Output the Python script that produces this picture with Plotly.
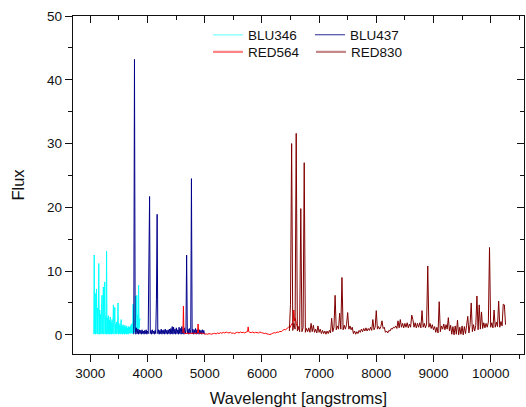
import plotly.graph_objects as go

# ---------------- data ----------------
blu346_wl = [3060, 3068, 3076, 3084, 3092, 3100, 3108, 3116, 3124, 3132,
             3140, 3148, 3156, 3164, 3172, 3180, 3188, 3196, 3204, 3212,
             3220, 3228, 3236, 3244, 3252, 3260, 3268, 3276, 3284, 3292,
             3300, 3308, 3316, 3324, 3332, 3340, 3348, 3356, 3364, 3372,
             3380, 3388, 3396, 3404, 3412, 3420, 3428, 3436, 3444, 3452,
             3460, 3468, 3476, 3484, 3492, 3500, 3508, 3516, 3524, 3532,
             3540, 3548, 3556, 3564, 3572, 3580, 3588, 3596, 3604, 3612,
             3620, 3628, 3636, 3644, 3652, 3660, 3668, 3676, 3684, 3692,
             3700, 3708, 3716, 3724, 3732, 3740, 3748, 3756, 3764, 3772,
             3780, 3788, 3796, 3804, 3812, 3820, 3828, 3836, 3844, 3852,
             3860, 3868]
blu346_flux = [0.1, 12.5, 0.2, 6.5, 0.1, 4.8, 7.2, 0.2, 4.2, 0.1,
               3.6, 11.2, 0.1, 3.9, 0.2, 3.2, 0.1, 4.0, 6.2, 0.2,
               2.8, 7.5, 0.1, 3.1, 8.3, 0.2, 2.9, 0.1, 13.1, 0.2,
               2.6, 0.1, 3.0, 0.2, 2.3, 0.1, 2.8, 0.2, 2.0, 0.1,
               2.4, 0.2, 1.9, 4.7, 0.1, 2.1, 4.3, 0.2, 1.7, 0.1,
               2.0, 0.2, 1.6, 5.0, 0.1, 1.8, 0.2, 1.5, 0.1, 1.7,
               2.4, 0.2, 1.4, 0.1, 1.6, 0.2, 1.3, 0.1, 1.5, 0.2,
               1.2, 0.1, 1.4, 0.2, 1.1, 0.1, 1.3, 0.2, 1.2, 0.3,
               1.4, 0.2, 1.6, 0.3, 1.8, 0.2, 4.8, 0.3, 2.2, 0.4,
               3.5, 6.1, 0.5, 2.6, 6.2, 0.6, 3.1, 0.8, 7.8, 1.0,
               2.1, 2.6]

blu437_wl = [3760, 3772, 3784, 3796, 3808, 3820, 3832, 3844, 3856, 3868,
             3880, 3892, 3904, 3916, 3928, 3940, 3952, 3964, 3976, 3988,
             4000, 4012, 4024, 4036, 4048, 4060, 4072, 4084, 4096, 4108,
             4120, 4132, 4144, 4156, 4168, 4180, 4192, 4204, 4216, 4228,
             4240, 4252, 4264, 4276, 4288, 4300, 4312, 4324, 4336, 4348,
             4360, 4372, 4384, 4396, 4408, 4420, 4432, 4444, 4456, 4468,
             4480, 4492, 4504, 4516, 4528, 4540, 4552, 4564, 4576, 4588,
             4600, 4612, 4624, 4636, 4648, 4660, 4672, 4684, 4696, 4708,
             4720, 4732, 4744, 4756, 4768, 4780, 4792, 4804, 4816, 4828,
             4840, 4852, 4864, 4876, 4888, 4900, 4912, 4924, 4936, 4948,
             4960, 4972, 4984, 4996]
blu437_flux = [0.1, 43.2, 1.3, 0.1, 1.1, 0.2, 0.9, 0.1, 0.8, 0.2,
               0.7, 0.1, 0.8, 0.2, 0.6, 0.1, 0.7, 0.2, 0.8, 0.1,
               0.6, 0.2, 11.4, 21.7, 0.2, 0.7, 0.1, 0.8, 0.2, 0.6,
               0.1, 0.7, 0.2, 5.6, 18.9, 0.2, 0.8, 0.1, 0.7, 0.2,
               0.9, 0.1, 0.7, 0.2, 0.8, 0.1, 0.9, 0.2, 0.7, 0.1,
               0.8, 0.2, 0.9, 0.1, 1.0, 0.2, 1.3, 0.1, 1.2, 0.2,
               0.9, 0.1, 1.1, 0.2, 0.8, 0.1, 1.2, 0.2, 1.0, 0.1,
               1.3, 0.2, 0.9, 0.1, 1.1, 0.2, 0.8, 12.5, 0.2, 0.9,
               0.1, 1.0, 0.2, 0.8, 24.5, 0.2, 0.9, 0.1, 0.8, 0.2,
               1.0, 0.1, 0.8, 0.2, 0.9, 0.1, 0.8, 0.2, 0.7, 0.1,
               0.8, 0.2, 0.7, 0.1]

red564_wl = [4620, 4628, 4636, 4650, 4675, 4700, 4725, 4750, 4775, 4800,
             4825, 4850, 4875, 4884, 4893, 4910, 4935, 4960, 4985, 5000,
             5025, 5050, 5075, 5100, 5125, 5150, 5175, 5200, 5225, 5250,
             5275, 5300, 5325, 5350, 5375, 5400, 5425, 5450, 5475, 5500,
             5525, 5550, 5575, 5600, 5625, 5650, 5675, 5700, 5725, 5750,
             5760, 5770, 5790, 5815, 5840, 5865, 5890, 5915, 5940, 5965,
             5990, 6015, 6040, 6065, 6090, 6115, 6140, 6165, 6190, 6215,
             6240, 6265, 6290, 6315, 6340, 6365, 6390, 6415, 6440, 6465,
             6490, 6510, 6530, 6545, 6558, 6570, 6585, 6600, 6615, 6630,
             6645]
red564_flux = [0.3, 4.5, 0.3, 0.25, 0.2, 0.3, 0.2, 0.25, 0.2, 0.3,
               0.25, 0.2, 0.3, 1.7, 0.3, 0.2, 0.3, 0.2, 0.25, 0.1,
               0.15, 0.1, 0.2, 0.15, 0.1, 0.2, 0.25, 0.15, 0.3, 0.2,
               0.35, 0.25, 0.4, 0.3, 0.45, 0.35, 0.3, 0.4, 0.25, 0.3,
               0.2, 0.35, 0.4, 0.3, 0.45, 0.35, 0.4, 0.3, 0.45, 0.5,
               1.25, 0.5, 0.4, 0.35, 0.45, 0.3, 0.4, 0.35, 0.3, 0.45,
               0.35, 0.3, 0.2, 0.25, 0.15, 0.1, 0.05, 0.15, 0.25, 0.35,
               0.3, 0.45, 0.4, 0.55, 0.5, 0.7, 0.85, 0.8, 1.0, 1.2,
               1.1, 1.5, 1.8, 1.6, 3.9, 2.2, 2.6, 1.8, 1.4, 1.0,
               0.9]

red830_wl = [6480, 6500, 6520, 6540, 6560, 6580, 6600, 6620, 6640, 6660,
             6680, 6700, 6720, 6740, 6760, 6780, 6800, 6820, 6840, 6860,
             6880, 6900, 6920, 6940, 6960, 6980, 7000, 7020, 7040, 7060,
             7080, 7100, 7120, 7140, 7160, 7180, 7200, 7220, 7240, 7260,
             7280, 7300, 7320, 7340, 7360, 7380, 7400, 7420, 7440, 7460,
             7480, 7500, 7520, 7540, 7560, 7580, 7600, 7620, 7640, 7660,
             7680, 7700, 7720, 7740, 7760, 7780, 7800, 7820, 7840, 7860,
             7880, 7900, 7920, 7940, 7960, 7980, 8000, 8020, 8040, 8060,
             8080, 8100, 8120, 8140, 8160, 8180, 8200, 8220, 8240, 8260,
             8280, 8300, 8320, 8340, 8360, 8380, 8400, 8420, 8440, 8460,
             8480, 8500, 8520, 8540, 8560, 8580, 8600, 8620, 8640, 8660,
             8680, 8700, 8720, 8740, 8760, 8780, 8800, 8820, 8840, 8860,
             8880, 8900, 8920, 8940, 8960, 8980, 9000, 9020, 9040, 9060,
             9080, 9100, 9120, 9140, 9160, 9180, 9200, 9220, 9240, 9260,
             9280, 9300, 9320, 9340, 9360, 9380, 9400, 9420, 9440, 9460,
             9480, 9500, 9520, 9540, 9560, 9580, 9600, 9620, 9640, 9660,
             9680, 9700, 9720, 9740, 9760, 9780, 9800, 9820, 9840, 9860,
             9880, 9900, 9920, 9940, 9960, 9980, 10000, 10020, 10040, 10060,
             10080, 10100, 10120, 10140, 10160, 10180, 10200, 10220, 10240, 10260]
red830_flux = [0.6, 4.8, 30.0, 0.7, 1.8, 0.9, 31.6, 0.6, 1.3, 0.5,
               19.8, 0.5, 1.1, 27.0, 0.4, 1.0, 0.5, 1.1, 0.4, 1.8,
               0.5, 1.5, 0.4, 0.9, 0.3, 1.4, 0.4, 0.9, 0.2, 0.7,
               0.2, 0.6, 0.1, 0.6, 0.2, 0.7, 0.3, 2.6, 0.5, 1.2,
               6.2, 0.8, 1.4, 0.9, 3.4, 0.9, 9.0, 0.8, 1.5, 0.9,
               1.6, 3.5, 0.9, 1.4, 0.8, 1.2, 0.2, 0.6, 0.1, 0.5,
               0.2, 0.7, 0.4, 0.9, 0.5, 1.0, 0.6, 1.1, 0.6, 1.0,
               0.7, 1.2, 0.7, 2.4, 0.8, 1.2, 3.8, 0.9, 1.3, 0.9,
               1.3, 2.2, 1.0, 1.2, 0.4, 0.6, 0.3, 0.7, 0.6, 1.0,
               0.9, 1.2, 1.1, 1.4, 1.0, 2.2, 1.1, 2.4, 1.2, 1.8,
               1.1, 1.8, 1.2, 1.9, 1.1, 1.7, 1.2, 3.1, 2.4, 1.2,
               1.9, 1.1, 1.8, 1.2, 1.9, 1.1, 3.8, 1.2, 1.8, 1.1,
               1.7, 10.8, 1.2, 1.8, 1.0, 1.6, 0.8, 1.3, 0.4, 1.2,
               0.3, 5.2, 0.5, 1.4, 0.9, 1.7, 0.8, 1.6, 0.9, 2.7,
               0.6, 1.5, 0.1, 1.3, 0.0, 1.4, 0.1, 2.3, 0.0, 1.2,
               0.1, 1.4, 0.0, 1.3, 0.2, 1.5, 2.9, 0.3, 1.6, 5.0,
               0.5, 1.6, 0.6, 1.5, 6.1, 0.8, 4.7, 0.9, 3.6, 1.0,
               1.9, 1.1, 1.8, 1.2, 2.0, 13.7, 1.2, 1.9, 1.1, 3.9,
               1.2, 2.0, 1.3, 5.3, 1.2, 2.1, 1.4, 4.8, 4.7, 1.6]

series_names = ["BLU346", "BLU437", "RED564", "RED830"]

# ---------------- styling ----------------
FONT = "Arial, 'Liberation Sans', sans-serif"
INK = "#111111"
line_colors = ["#00ffff", "#00008b", "#ff0000", "#800000"]
legend_colors = ["#80ffff", "#2a2a95", "#ff8585", "#c48888"]
legend_widths = [1.2, 1.0, 2.2, 2.2]
legend_ids = ["legend", "legend", "legend2", "legend2"]

xs = [blu346_wl, blu437_wl, red564_wl, red830_wl]
ys = [blu346_flux, blu437_flux, red564_flux, red830_flux]

X_RANGE = [2697, 10583]
Y_RANGE = [-3, 50]

fig = go.Figure()
for name, x, y, c in zip(series_names, xs, ys, line_colors):
    fig.add_trace(go.Scatter(x=x, y=y, mode="lines", name=name,
                             line=dict(color=c, width=1, simplify=False),
                             showlegend=False, hoverinfo="skip"))

for name, c, w, lg in zip(series_names, legend_colors, legend_widths, legend_ids):
    fig.add_trace(go.Scatter(x=[None], y=[None], mode="lines", name=name,
                             line=dict(color=c, width=w), legend=lg,
                             showlegend=True, hoverinfo="skip"))

# empty trace so the mirrored top/right frame axes are drawn
fig.add_trace(go.Scatter(x=[None], y=[None], xaxis="x2", yaxis="y2",
                         showlegend=False, hoverinfo="skip"))

tick_common = dict(showline=True, linecolor=INK, linewidth=1.3, showgrid=False,
                   zeroline=False, tickcolor=INK, tickwidth=1.3, ticklen=7,
                   tickformat="d",
                   tickfont=dict(family=FONT, size=13.5, color=INK))

fig.update_layout(
    width=526, height=407,
    margin=dict(l=73, r=2, t=16, b=53, autoexpand=False),
    paper_bgcolor="white", plot_bgcolor="white",
    font=dict(family=FONT, color=INK),
    xaxis=dict(range=X_RANGE, dtick=1000, tick0=0, ticks="outside",
               minor=dict(dtick=500, ticklen=4, ticks="outside", tickcolor=INK, tickwidth=1.3),
               title=dict(text="Wavelenght [angstroms]", font=dict(family=FONT, size=16.5, color=INK),
                          standoff=12),
               **tick_common),
    yaxis=dict(range=Y_RANGE, dtick=10, tick0=0, ticks="outside",
               minor=dict(dtick=5, ticklen=4, ticks="outside", tickcolor=INK, tickwidth=1.3),
               title=dict(text="Flux", font=dict(family=FONT, size=16.5, color=INK),
                          standoff=18),
               **tick_common),
    xaxis2=dict(range=X_RANGE, overlaying="x", side="top", anchor="y2", dtick=1000, tick0=0,
                ticks="inside", showticklabels=False,
                minor=dict(dtick=500, ticklen=4, ticks="inside", tickcolor=INK, tickwidth=1.3),
                **tick_common),
    yaxis2=dict(range=Y_RANGE, overlaying="y", side="right", anchor="x2", dtick=10, tick0=0,
                ticks="inside", showticklabels=False,
                minor=dict(dtick=5, ticklen=4, ticks="inside", tickcolor=INK, tickwidth=1.3),
                **tick_common),
    legend=dict(orientation="h", x=(208 - 73) / 451, y=(354 - 35) / 338,
                xanchor="left", yanchor="middle",
                entrywidth=57, bgcolor="rgba(0,0,0,0)", borderwidth=0,
                font=dict(family=FONT, size=13.5, color=INK)),
    legend2=dict(orientation="h", x=(208 - 73) / 451, y=(354 - 52) / 338,
                 xanchor="left", yanchor="middle",
                 entrywidth=58, bgcolor="rgba(0,0,0,0)", borderwidth=0,
                 font=dict(family=FONT, size=13.5, color=INK)),
)

fig.write_html("out.html")
